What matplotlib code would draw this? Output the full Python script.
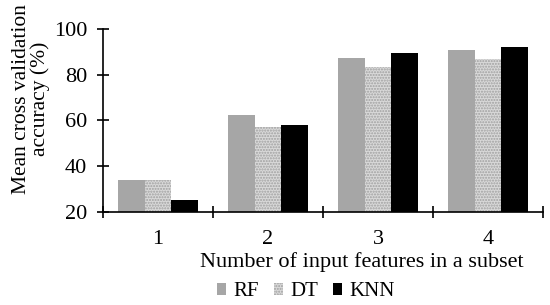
import matplotlib
matplotlib.use("Agg")
import matplotlib.pyplot as plt
import numpy as np

categories = ["1", "2", "3", "4"]
series_names = ["RF", "DT", "KNN"]
rf = [34, 62.3, 87.4, 90.9]
dt = [34, 57.1, 83.6, 87.0]
knn = [25, 58.2, 89.7, 92.1]
yticks = [20, 40, 60, 80, 100]

plt.rcParams['font.family'] = ['Liberation Serif', 'DejaVu Serif']
plt.rcParams['hatch.linewidth'] = 1.0

fig = plt.figure(figsize=(5.5, 3.05), dpi=100)
ax = fig.add_axes([103/550, 93.3/305, 440/550, 182.4/305])

x = np.arange(len(categories))
w = 0.2424
ax.bar(x - w, rf, w, color="#A6A6A6", label="RF", linewidth=0)
ax.bar(x, dt, w, color="#D9D9D9", edgecolor="#A0A0A0", hatch="......", linewidth=0, label="DT")
ax.bar(x + w, knn, w, color="#000000", label="KNN", linewidth=0)

ax.set_ylim(20, 100)
ax.set_xlim(-0.5, len(categories) - 0.5)
ax.set_yticks(yticks)
ax.set_xticks(np.arange(len(categories) + 1) - 0.5)
ax.set_xticklabels([])
ax.set_xticks(x, minor=True)
ax.set_xticklabels(categories, minor=True)
ax.tick_params(axis='x', which='major', direction='inout', length=9, width=1.2)
ax.tick_params(axis='x', which='minor', length=0, labelsize=16, pad=13)
ax.tick_params(axis='y', direction='inout', length=9, width=1.2, labelsize=16, pad=7)
for s in ['top', 'right']:
    ax.spines[s].set_visible(False)
for s in ['left', 'bottom']:
    ax.spines[s].set_linewidth(1.2)

ax.set_xlabel("Number of input features in a subset", fontsize=16)
ax.xaxis.set_label_coords(0.589, -0.222)
ax.set_ylabel("Mean cross validation\naccuracy (%)", fontsize=15.5, linespacing=0.95)
ax.yaxis.set_label_coords(-0.12, 0.62)

fig.legend(loc='center', bbox_to_anchor=(306/550, 1 - 292/305), ncol=3, frameon=False,
           fontsize=15, handlelength=0.45, handleheight=0.45, handletextpad=0.35,
           columnspacing=0.7, borderpad=0)

fig.savefig("out.png", dpi=100)
